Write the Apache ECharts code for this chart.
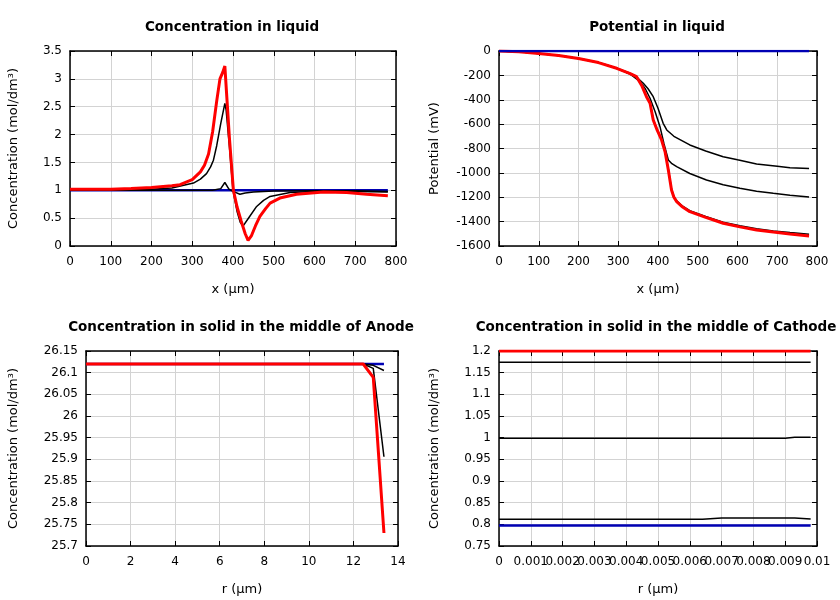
<!DOCTYPE html>
<html>
<head>
<meta charset="utf-8">
<script src="https://cdn.jsdelivr.net/npm/echarts@6/dist/echarts.min.js"></script>
<style>html,body{margin:0;padding:0;background:#fff}#c{width:840px;height:600px}</style>
</head>
<body>
<div id="c"></div>
<script>
// ---------- Concentration in liquid ----------
const liqBlueX = [0, 780];
const liqBlueY = [1.0, 1.0];
const liqB1X = [0, 200, 350, 370, 380, 390, 400, 417, 430, 450, 500, 600, 700, 780];
const liqB1Y = [1.0, 1.0, 1.0, 1.03, 1.14, 1.02, 0.98, 0.93, 0.95, 0.97, 0.985, 0.99, 0.99, 0.98];
const liqB2X = [0, 200, 250, 303, 320, 335, 345, 352, 360, 370, 380, 383, 391, 400, 410, 418, 425, 440, 458, 475, 491, 540, 600, 700, 780];
const liqB2Y = [1.0, 1.02, 1.04, 1.13, 1.2, 1.3, 1.42, 1.54, 1.8, 2.2, 2.56, 2.45, 1.8, 1.0, 0.62, 0.42, 0.36, 0.52, 0.71, 0.82, 0.89, 0.96, 0.98, 0.98, 0.97];
const liqRedX = [0, 100, 150, 200, 250, 270, 300, 320, 330, 340, 350, 360, 368, 375, 380, 391, 401, 410, 420, 430, 437, 445, 455, 466, 480, 491, 515, 556, 622, 679, 728, 780];
const liqRedY = [1.02, 1.02, 1.03, 1.05, 1.08, 1.1, 1.19, 1.33, 1.45, 1.65, 2.05, 2.6, 3.0, 3.12, 3.23, 1.96, 1.0, 0.7, 0.45, 0.22, 0.1, 0.18, 0.36, 0.53, 0.67, 0.77, 0.86, 0.93, 0.97, 0.96, 0.93, 0.9];

// ---------- Potential in liquid ----------
const potBlueX = [0, 780];
const potBlueY = [0, 0];
const potB1X = [0, 50, 100, 150, 200, 250, 296, 330, 350, 363, 375, 388, 400, 413, 422, 440, 480, 520, 564, 600, 648, 700, 732, 780];
const potB1Y = [0, -6, -20, -37, -62, -95, -142, -190, -225, -265, -310, -375, -470, -593, -648, -700, -771, -820, -867, -893, -927, -945, -957, -965];
const potB2X = [0, 50, 100, 150, 200, 250, 296, 330, 355, 368, 380, 393, 405, 415, 426, 435, 447, 480, 522, 564, 606, 648, 690, 732, 780];
const potB2Y = [0, -6, -20, -37, -62, -95, -142, -190, -252, -310, -388, -500, -621, -760, -894, -925, -949, -1005, -1058, -1097, -1127, -1150, -1168, -1183, -1197];
const potB3X = [0, 50, 100, 150, 200, 250, 296, 330, 346, 360, 371, 380, 388, 398, 409, 418, 426, 434, 440, 447, 460, 480, 520, 564, 606, 648, 690, 732, 780];
const potB3Y = [0, -6, -20, -37, -62, -95, -142, -183, -209, -287, -372, -426, -562, -646, -726, -826, -970, -1133, -1193, -1229, -1268, -1310, -1357, -1404, -1434, -1458, -1476, -1490, -1503];
const potRedX = [0, 50, 100, 150, 200, 250, 296, 330, 346, 360, 371, 380, 388, 398, 409, 418, 426, 434, 440, 447, 460, 480, 520, 564, 606, 648, 690, 732, 780];
const potRedY = [0, -6, -20, -37, -62, -95, -142, -185, -211, -290, -375, -429, -566, -650, -730, -830, -976, -1140, -1200, -1236, -1275, -1318, -1365, -1413, -1443, -1468, -1486, -1501, -1518];

// ---------- Concentration in solid, Anode ----------
const anX = [0, 12.44, 12.89, 13.37];
const anBlueY = [26.12, 26.12, 26.12, 26.12];
const anB1Y = [26.12, 26.12, 26.117, 26.105];
const anB2Y = [26.12, 26.12, 26.11, 25.906];
const anRedY = [26.12, 26.12, 26.089, 25.73];

// ---------- Concentration in solid, Cathode ----------
const caX = [0, 0.0064, 0.007, 0.009, 0.0093, 0.0098];
const caRedY = [1.2, 1.2, 1.2, 1.2, 1.2, 1.2];
const caB1Y = [1.174, 1.174, 1.174, 1.174, 1.174, 1.174];
const caB2Y = [0.9985, 0.9985, 0.9985, 0.9985, 1.001, 1.001];
const caB3Y = [0.8115, 0.8115, 0.8145, 0.8145, 0.8145, 0.8125];
const caBlueY = [0.7975, 0.7975, 0.7975, 0.7975, 0.7975, 0.7975];

// tick settings
const liqXTicks = {min: 0, max: 800, interval: 100};
const liqYTicks = {min: 0, max: 3.5, interval: 0.5};
const potYTicks = {min: -1600, max: 0, interval: 200};
const anXTicks = {min: 0, max: 14, interval: 2};
const anYTicks = {min: 25.7, max: 26.15, interval: 0.05};
const caXTicks = {min: 0, max: 0.01, interval: 0.001};
const caYTicks = {min: 0.75, max: 1.2, interval: 0.05};

const titles = ['Concentration in liquid', 'Potential in liquid', 'Concentration in solid in the middle of Anode', 'Concentration in solid in the middle of Cathode'];
const xNames = ['x (μm)', 'x (μm)', 'r (μm)', 'r (μm)'];
const yNames = ['Concentration (mol/dm³)', 'Potential (mV)', 'Concentration (mol/dm³)', 'Concentration (mol/dm³)'];

const pair = (xs, ys) => xs.map((x, i) => [x, ys[i]]);
const FONT = 'DejaVu Sans';
const BLUE = '#0000b4', RED = '#ff0000', BLACK = '#000000';

const grids = [
  {left: 70, top: 51, width: 326, height: 195},
  {left: 499, top: 51, width: 318, height: 195},
  {left: 86, top: 351, width: 312, height: 195},
  {left: 499, top: 351, width: 318, height: 195}
];
const yNameGaps = [50, 58, 66, 58];
const xT = [liqXTicks, liqXTicks, anXTicks, caXTicks];
const yT = [liqYTicks, potYTicks, anYTicks, caYTicks];
const plainNum = v => String(v);

const xAxes = [], yAxes = [];
for (let i = 0; i < 4; i++) {
  const common = {type: 'value', gridIndex: i,
    axisLine: {show: true, onZero: false, lineStyle: {color: '#000', width: 1.5}},
    axisTick: {show: true, inside: true, length: 5, lineStyle: {color: '#000', width: 1}}};
  xAxes.push(Object.assign({}, common, xT[i], {position: 'bottom', name: xNames[i], nameLocation: 'middle', nameGap: 37,
    nameTextStyle: {fontFamily: FONT, fontSize: 13, color: '#000'},
    axisLabel: {fontFamily: FONT, fontSize: 12, color: '#000', margin: 10, interval: 0, hideOverlap: false, showMinLabel: true, showMaxLabel: true},
    splitLine: {show: true, lineStyle: {color: '#d3d3d3', width: 1}}}));
  xAxes.push(Object.assign({}, common, xT[i], {position: 'top', axisLabel: {show: false}, splitLine: {show: false}}));
  yAxes.push(Object.assign({}, common, yT[i], {position: 'left', name: yNames[i], nameLocation: 'middle', nameGap: yNameGaps[i],
    nameTextStyle: {fontFamily: FONT, fontSize: 13, color: '#000'},
    axisLabel: {fontFamily: FONT, fontSize: 12, color: '#000', margin: 8, showMinLabel: true, showMaxLabel: true, formatter: plainNum},
    splitLine: {show: true, lineStyle: {color: '#d3d3d3', width: 1}}}));
  yAxes.push(Object.assign({}, common, yT[i], {position: 'right', axisLabel: {show: false}, splitLine: {show: false}}));
}

function line(g, data, color, width) {
  return {type: 'line', xAxisIndex: g * 2, yAxisIndex: g * 2, data: data, showSymbol: false, symbol: 'none',
    lineStyle: {color: color, width: width}, itemStyle: {color: color}, animation: false, silent: true};
}

const series = [
  line(0, pair(liqBlueX, liqBlueY), BLUE, 2.5),
  line(0, pair(liqB1X, liqB1Y), BLACK, 1.5),
  line(0, pair(liqB2X, liqB2Y), BLACK, 1.5),
  line(0, pair(liqRedX, liqRedY), RED, 3),
  line(1, pair(potB1X, potB1Y), BLACK, 1.5),
  line(1, pair(potB2X, potB2Y), BLACK, 1.5),
  line(1, pair(potB3X, potB3Y), BLACK, 1.5),
  line(1, pair(potRedX, potRedY), RED, 3),
  line(1, pair(potBlueX, potBlueY), BLUE, 2.5),
  line(2, pair(anX, anBlueY), BLUE, 2.5),
  line(2, pair(anX, anB1Y), BLACK, 1.5),
  line(2, pair(anX, anB2Y), BLACK, 1.5),
  line(2, pair(anX, anRedY), RED, 3),
  line(3, pair(caX, caBlueY), BLUE, 2.5),
  line(3, pair(caX, caB1Y), BLACK, 1.5),
  line(3, pair(caX, caB2Y), BLACK, 1.5),
  line(3, pair(caX, caB3Y), BLACK, 1.5),
  line(3, pair(caX, caRedY), RED, 3)
];

const titleCenters = [[232, 20], [657, 20], [241, 320], [656, 320]];
const chart = echarts.init(document.getElementById('c'), null, {renderer: 'canvas'});
chart.setOption({
  backgroundColor: '#fff',
  animation: false,
  title: titles.map((t, i) => ({text: t, left: titleCenters[i][0], top: titleCenters[i][1], textAlign: 'center', padding: 0,
    textStyle: {fontFamily: FONT, fontSize: 13.5, fontWeight: 'bold', color: '#000'}})),
  grid: grids,
  xAxis: xAxes,
  yAxis: yAxes,
  series: series
});
</script>
</body>
</html>
